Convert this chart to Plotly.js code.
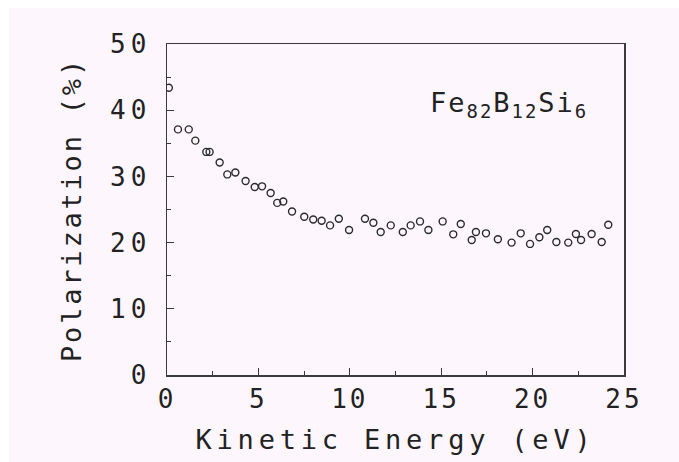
<!DOCTYPE html>
<html>
<head>
<meta charset="utf-8">
<script src="https://cdn.plot.ly/plotly-3.0.1.min.js"></script>
<style>
  html, body { margin: 0; padding: 0; background: #fdf7fd; }
  #plot { width: 679px; height: 462px; }
  .xtick text { letter-spacing: 3px; }
  .ytick text { letter-spacing: 5px; }
  .xtitle { letter-spacing: 4.8px; }
  .ytitle { letter-spacing: 2.8px; }
  .annotation-text { letter-spacing: 2px; }
</style>
</head>
<body>
<div id="plot"></div>
<script>
// Spin polarization of secondary electrons vs. kinetic energy
const energy = [0.1, 0.6, 1.19, 1.55, 2.15, 2.33, 2.88, 3.3, 3.74, 4.3, 4.8, 5.2,
  5.67, 6.03, 6.36, 6.84, 7.51, 8.0, 8.46, 8.92, 9.4, 9.96, 10.83, 11.29, 11.69,
  12.24, 12.9, 13.33, 13.84, 14.3, 15.08, 15.66, 16.07, 16.67, 16.9, 17.45, 18.1,
  18.85, 19.35, 19.86, 20.37, 20.8, 21.3, 21.95, 22.37, 22.65, 23.23, 23.78, 24.14];
const polarization = [43.4, 37.1, 37.1, 35.4, 33.7, 33.7, 32.1, 30.3, 30.6, 29.3, 28.4, 28.5,
  27.5, 26.0, 26.2, 24.7, 23.9, 23.5, 23.3, 22.6, 23.6, 21.9, 23.6, 23.0, 21.6,
  22.6, 21.6, 22.6, 23.2, 21.9, 23.2, 21.25, 22.8, 20.4, 21.6, 21.4, 20.5,
  20.0, 21.4, 19.8, 20.8, 21.9, 20.1, 20.0, 21.3, 20.4, 21.3, 20.1, 22.7];

const xTicks = [0, 5, 10, 15, 20, 25];
const yTicks = [0, 10, 20, 30, 40, 50];
const sampleLabel = 'Fe<sub>82</sub>B<sub>12</sub>Si<sub>6</sub>';

const ink = '#2a2a2a';
const textInk = '#222222';
const monoFont = 'DejaVu Sans Mono, Liberation Mono, monospace';

const trace = {
  type: 'scatter',
  mode: 'markers',
  x: energy,
  y: polarization,
  marker: {
    symbol: 'circle-open',
    size: 7,
    color: ink,
    line: { width: 1.4, color: ink }
  },
  hoverinfo: 'x+y',
  showlegend: false
};

const axisCommon = {
  showgrid: false,
  zeroline: false,
  showline: true,
  linecolor: '#3a3a3a',
  linewidth: 1.5,
  mirror: true,
  ticks: 'inside',
  ticklen: 7,
  tickwidth: 1.3,
  tickcolor: '#3a3a3a',
  tickfont: { family: monoFont, size: 26, color: textInk },
  automargin: false
};

const layout = {
  width: 679,
  height: 462,
  margin: { l: 167, r: 55, t: 44, b: 87 },
  paper_bgcolor: '#fdf7fd',
  plot_bgcolor: '#fdf7fd',
  xaxis: Object.assign({}, axisCommon, {
    range: [0, 25],
    tickmode: 'array',
    tickvals: xTicks,
    ticktext: xTicks.map(String),
    ticklabelstandoff: 0,
    minor: { dtick: 2.5, tick0: 0, ticks: 'inside', ticklen: 4, tickwidth: 1.1, tickcolor: '#3a3a3a', showgrid: false },
    title: { text: 'Kinetic Energy (eV)', font: { family: monoFont, size: 27, color: textInk }, standoff: 17 }
  }),
  yaxis: Object.assign({}, axisCommon, {
    range: [0, 50],
    tickmode: 'array',
    tickvals: yTicks,
    ticktext: yTicks.map(String),
    ticklabelstandoff: 9,
    minor: { dtick: 5, tick0: 0, ticks: 'inside', ticklen: 4, tickwidth: 1.1, tickcolor: '#3a3a3a', showgrid: false },
    title: { text: 'Polarization (%)', font: { family: monoFont, size: 27, color: textInk }, standoff: 20 }
  }),
  annotations: [{
    xref: 'paper', yref: 'paper',
    x: 0.748, y: 0.818,
    xanchor: 'center', yanchor: 'middle',
    text: sampleLabel,
    showarrow: false,
    font: { family: monoFont, size: 27, color: textInk }
  }],
  shapes: [
    // white border strips at the top and left edges of the page
    { type: 'rect', xref: 'paper', yref: 'paper', x0: -0.37, x1: 1.13, y0: 1.1088, y1: 1.14,
      fillcolor: '#ffffff', line: { width: 0 }, layer: 'below' },
    { type: 'rect', xref: 'paper', yref: 'paper', x0: -0.37, x1: -0.3457, y0: -0.3, y1: 1.14,
      fillcolor: '#ffffff', line: { width: 0 }, layer: 'below' }
  ]
};

Plotly.newPlot('plot', [trace], layout, { displayModeBar: false, staticPlot: true });
</script>
</body>
</html>
